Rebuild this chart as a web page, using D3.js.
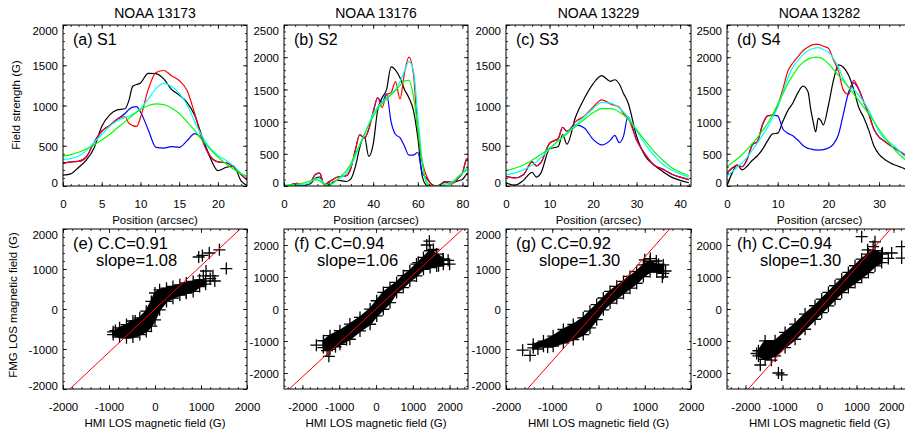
<!DOCTYPE html>
<html>
<head>
<meta charset="utf-8">
<script src="https://cdn.jsdelivr.net/npm/d3@7"></script>
<style>
  body { margin: 0; background: #fff; }
  text { font-family: "Liberation Sans", Arial, Helvetica, sans-serif; }
</style>
</head>
<body>
<svg id="fig" width="905" height="432"></svg>
<script>
// ---- labels ----
const titles = ["NOAA 13173", "NOAA 13176", "NOAA 13229", "NOAA 13282"];
const profileTags = ["(a) S1", "(b) S2", "(c) S3", "(d) S4"];
const scatterTags = ["(e)", "(f)", "(g)", "(h)"];
const ccValues = ["0.91", "0.94", "0.92", "0.94"];
const slopes = [1.08, 1.06, 1.30, 1.30];

// ---- field strength profiles (G) vs position (arcsec) ----
const posA = [0,1,2,3,4,5,6,7,8,8.5,9,9.5,10,11,12,13,14,15,16,17,18,19,20,21,22,23,24];
const blackA = [135,150,230,320,470,740,880,945,960,1060,1240,1260,1280,1400,1395,1330,1200,1130,1040,880,600,350,190,230,250,60,0];
const blueA  = [280,300,305,360,540,680,750,830,900,950,980,985,920,700,480,470,490,480,560,650,570,370,300,290,240,140,60];
const redA   = [280,300,305,360,540,680,750,830,860,780,750,740,850,1200,1410,1435,1370,1310,1190,900,560,370,300,290,240,140,60];
const cyanA  = [330,340,370,440,540,640,740,810,850,870,890,920,960,1080,1210,1275,1240,1150,1010,800,610,470,380,320,250,160,110];
const greenA = [370,390,420,460,510,570,640,720,800,840,880,915,950,1000,1020,1010,970,900,800,690,570,460,360,280,210,150,110];

const posB = [0,2,4,6,8,10,12,14,16,18,20,22,24,26,28,30,32,34,36,38,40,42,44,46,48,50,52,54,56,58,60,62,64,66,68,70,72,74,76,78,80,82,84];
const blackB = [5,5,5,10,10,20,40,120,140,20,10,60,90,80,70,110,300,600,780,460,650,1180,1370,1500,1850,1800,1680,1500,1370,1180,750,150,10,0,0,20,70,50,60,80,100,180,150];
const blueB  = [10,5,30,40,10,20,60,180,200,20,60,100,140,150,160,280,560,800,740,880,1150,1370,1300,1430,1000,800,750,620,480,480,520,200,120,30,0,20,60,70,50,120,200,420,300];
const redB   = [10,5,30,40,10,20,60,180,200,20,60,100,140,150,160,280,560,800,740,880,1150,1370,1220,1420,1450,1620,1350,1750,2000,1750,850,380,150,30,0,20,60,70,50,120,200,420,300];
const cyanB  = [10,10,10,15,20,30,60,110,110,40,10,40,100,140,200,320,460,640,780,960,1120,1230,1300,1370,1430,1500,1620,1780,1930,1800,1100,380,40,0,0,10,30,50,80,140,200,280,300];
const greenB = [10,15,20,30,40,60,80,100,80,30,20,50,100,170,240,350,500,640,800,950,1080,1200,1280,1350,1420,1480,1560,1630,1640,1400,900,350,60,0,0,5,10,20,60,140,200,250,270];

const posC = [0,2,4,6,7,8,10,12,13,14,16,18,20,22,24,25,26,27,28,30,32,34,36,38,40,42];
const blackC = [40,10,70,170,110,160,460,490,640,520,860,1090,1270,1370,1300,1320,1270,1150,1040,620,370,260,180,110,70,40];
const blueC  = [120,100,140,300,250,290,530,590,730,680,760,720,580,510,570,630,540,620,860,570,390,260,210,150,110,80];
const redC   = [120,100,140,300,250,290,530,590,730,680,800,870,980,1070,1020,1000,980,900,850,570,390,260,210,150,110,80];
const cyanC  = [140,160,200,260,300,350,460,560,610,660,760,860,960,1040,1030,1010,970,920,860,690,520,380,270,200,150,110];
const greenC = [190,220,260,320,355,390,470,560,605,650,740,830,910,960,960,950,920,880,830,700,560,430,320,230,170,130];

const posD = [0,1,2,3,4,5,6,7,8,9,10,11,12,13,14,15,16,16.5,17,17.5,18,18.5,19,20,21,22,23,24,25,26,27,28,29,30,31,32,33,34,35,36];
const blackD = [0,200,330,250,310,400,470,570,700,810,820,1000,1170,1290,1450,1550,1460,1200,1000,840,1050,1020,950,1250,1640,1880,1840,1720,1500,1220,1060,860,620,490,420,370,330,300,270,230];
const blueD  = [200,280,320,300,420,640,690,950,1090,1100,1090,890,820,780,710,630,585,575,565,560,558,560,565,590,650,800,1130,1460,1600,1500,1300,1110,880,760,700,640,590,540,490,450];
const redD   = [200,280,320,300,420,640,690,950,1090,1100,1250,1500,1780,1910,2010,2100,2160,2180,2195,2200,2200,2190,2170,2140,1960,1780,1480,1420,1640,1500,1300,1110,880,760,700,640,590,540,490,450];
const cyanD  = [150,220,290,360,450,560,670,790,910,1060,1220,1450,1680,1850,1950,2040,2100,2120,2135,2145,2148,2140,2120,2080,1980,1840,1650,1540,1500,1410,1300,1170,1000,840,740,680,620,540,460,420];
const greenD = [300,360,420,490,570,660,750,860,970,1110,1270,1430,1590,1720,1840,1920,1970,1985,1995,2000,1998,1990,1970,1900,1810,1715,1630,1530,1430,1330,1220,1120,1000,880,770,670,570,490,420,360];

// ---- HMI vs FMG scatter: dense core band (lo/hi) and scattered points (G) ----
const bandXE  = [-910,-770,-620,-480,-330,-190,-80,0,100,250,390,540,680,830,970,1100];
const bandLoE = [-640,-700,-720,-700,-640,-560,-430,-270,-20,190,270,350,395,440,560,620];
const bandHiE = [-570,-470,-390,-300,-220,-55,190,400,480,520,565,605,650,690,730,700];
const outE = [[950,1300],[1030,1340],[1180,1400],[1400,1480],[1110,950],[1050,830],[1260,830],[1300,700],[1550,1010],[1200,760],[680,420],[-430,-300],[-860,-540]];

const bandXF  = [-1430,-1250,-980,-710,-435,-160,20,200,380,560,740,920,1100,1290,1470,1650,1830];
const bandLoF = [-1206,-1258,-1102,-946,-685,-477,-217,-8,200,512,669,877,1033,1242,1294,1346,1398];
const bandHiF = [-992,-835,-679,-471,-262,-2,258,519,675,831,1040,1196,1404,1613,1821,1717,1560];
const outF = [[-1620,-1130],[-1330,-1300],[-1280,-1480],[-1100,-1180],[-800,-950],[1380,2000],[1450,2120],[1560,1860],[1820,1560],[1960,1520],[2000,1400],[1150,1450],[1700,1350]];

const bandXG  = [-1410,-1190,-980,-760,-545,-330,-185,-40,105,250,395,540,680,825,970,1115,1260,1400];
const bandLoG = [-971,-930,-930,-847,-764,-640,-474,-267,-20,147,271,395,520,644,810,934,934,892];
const bandHiG = [-884,-801,-677,-512,-387,-221,-55,110,275,442,566,690,814,938,1103,1187,1103,1103];
const outG = [[-1640,-1030],[-1480,-1160],[-1310,-1000],[-1100,-950],[1000,1230],[1120,1260],[1300,1120],[1450,950],[1380,800],[1250,1200]];

const bandXH  = [-1650,-1470,-1200,-930,-660,-390,-120,60,240,420,600,780,960,1140,1320,1500,1680];
const bandLoH = [-1467,-1571,-1467,-1206,-946,-633,-321,-112,96,304,512,669,825,981,1137,1346,1450];
const bandHiH = [-1304,-998,-992,-731,-471,-158,102,310,519,727,935,1144,1352,1560,1717,1821,1717];
const outH = [[-1700,-1390],[-1600,-1750],[-1110,-2000],[-1020,-2060],[-1300,-1600],[1140,2260],[1500,2100],[1450,1950],[1860,1580],[2220,1950],[2220,1590],[1700,1750],[1300,1850],[1950,1750]];

// ---- layout ----
const FONT = '"Liberation Sans", Arial, Helvetica, sans-serif';
const svg = d3.select("#fig");
const W = +svg.attr("width");
const colX = [[63, 247], [284, 468], [506, 691], [727, 912]];
const topY = [25, 186], botY = [229, 389];
const seriesColors = ["#000000", "#0000ff", "#ff0000", "#00ffff", "#00ff00"];

const profiles = [
  { pos: posA, ys: [blackA, blueA, redA, cyanA, greenA], xmax: 23.75, ymax: 2000, xt: [0,5,10,15,20], xm: 1 },
  { pos: posB, ys: [blackB, blueB, redB, cyanB, greenB], xmax: 82.5, ymax: 2500, xt: [0,20,40,60,80], xm: 5 },
  { pos: posC, ys: [blackC, blueC, redC, cyanC, greenC], xmax: 42.5, ymax: 2000, xt: [0,10,20,30,40], xm: 2 },
  { pos: posD, ys: [blackD, blueD, redD, cyanD, greenD], xmax: 36.5, ymax: 2500, xt: [0,10,20,30], xm: 2 }
];
const scatters = [
  { bx: bandXE, lo: bandLoE, hi: bandHiE, out: outE, lim: 2000 },
  { bx: bandXF, lo: bandLoF, hi: bandHiF, out: outF, lim: 2500 },
  { bx: bandXG, lo: bandLoG, hi: bandHiG, out: outG, lim: 2000 },
  { bx: bandXH, lo: bandLoH, hi: bandHiH, out: outH, lim: 2500 }
];

function styleAxis(g) {
  g.attr("font-size", 11.5).attr("font-family", FONT);
  g.select(".domain").remove();
  g.selectAll("line").attr("stroke", "#000").attr("stroke-width", 0.8);
  g.selectAll("text").attr("fill", "#000");
}

// box axes with inward ticks on all four sides, IDL style
function boxAxes(g, xa, x, y, w, h, xt, xm, yt, ym) {
  const [x0, x1] = x.domain(), [y0, y1] = y.domain();
  const xMinor = d3.range(Math.ceil(x0 / xm) * xm, x1 + 1e-9, xm);
  const yMinor = d3.range(Math.ceil(y0 / ym) * ym, y1 + 1e-9, ym);
  const fmt = d => String(d);

  const gb = g.append("g").attr("transform", `translate(0,${h})`)
    .call(d3.axisBottom(x).tickValues(xt).tickSize(-4).tickSizeOuter(0).tickPadding(14).tickFormat(fmt))
    .call(styleAxis);
  // keep a label that would run past the page edge inside it
  gb.selectAll("text").each(function (d) {
    const half = this.getComputedTextLength() / 2;
    const over = xa + x(d) + half - (W - 1);
    if (over > 0) d3.select(this).attr("x", -over);
  });
  g.append("g").attr("transform", `translate(0,${h})`)
    .call(d3.axisBottom(x).tickValues(xMinor).tickSize(-2).tickSizeOuter(0).tickFormat(""))
    .call(styleAxis);
  g.append("g")
    .call(d3.axisTop(x).tickValues(xt).tickSize(-4).tickSizeOuter(0).tickFormat(""))
    .call(styleAxis);
  g.append("g")
    .call(d3.axisTop(x).tickValues(xMinor).tickSize(-2).tickSizeOuter(0).tickFormat(""))
    .call(styleAxis);

  const ga = g.append("g")
    .call(d3.axisLeft(y).tickValues(yt).tickSize(-4).tickSizeOuter(0).tickPadding(5).tickFormat(fmt))
    .call(styleAxis);
  // end labels sit a little inside the frame
  ga.selectAll("text").attr("y", d => d === y1 ? 6 : d === y0 ? -3 : 1);
  g.append("g")
    .call(d3.axisLeft(y).tickValues(yMinor).tickSize(-2).tickSizeOuter(0).tickFormat(""))
    .call(styleAxis);
  g.append("g").attr("transform", `translate(${w},0)`)
    .call(d3.axisRight(y).tickValues(yt).tickSize(-4).tickSizeOuter(0).tickFormat(""))
    .call(styleAxis);
  g.append("g").attr("transform", `translate(${w},0)`)
    .call(d3.axisRight(y).tickValues(yMinor).tickSize(-2).tickSizeOuter(0).tickFormat(""))
    .call(styleAxis);

  g.append("rect").attr("width", w).attr("height", h)
    .attr("fill", "none").attr("stroke", "#000").attr("stroke-width", 1);
}

// ---- top row: profiles ----
profiles.forEach((p, i) => {
  const [xa, xb] = colX[i];
  const w = xb - xa, h = topY[1] - topY[0];
  const g = svg.append("g").attr("transform", `translate(${xa},${topY[0]})`);
  const x = d3.scaleLinear().domain([0, p.xmax]).range([0, w]);
  const y = d3.scaleLinear().domain([0, p.ymax]).range([h, 0]);

  g.append("clipPath").attr("id", "clipT" + i)
    .append("rect").attr("width", w).attr("height", h);
  const plot = g.append("g").attr("clip-path", `url(#clipT${i})`);
  const line = d3.line().x(d => x(d[0])).y(d => y(d[1])).curve(d3.curveMonotoneX);
  p.ys.forEach((vals, k) => {
    plot.append("path")
      .datum(p.pos.map((u, j) => [u, vals[j]]))
      .attr("d", line)
      .attr("fill", "none")
      .attr("stroke", seriesColors[k])
      .attr("stroke-width", 1.2);
  });

  boxAxes(g, xa, x, y, w, h, p.xt, p.xm, d3.range(0, p.ymax + 1, 500), 100);

  svg.append("text").attr("x", xa + w / 2).attr("y", 18)
    .attr("text-anchor", "middle").attr("font-size", 14).text(titles[i]);
  g.append("text").attr("x", 10).attr("y", 20).attr("font-size", 16).text(profileTags[i]);
  svg.append("text").attr("x", xa + w / 2).attr("y", 224)
    .attr("text-anchor", "middle").attr("font-size", 11.5).text("Position (arcsec)");
});

svg.append("text")
  .attr("transform", "translate(20,105) rotate(-90)")
  .attr("text-anchor", "middle").attr("font-size", 11.5).text("Field strength (G)");

// ---- bottom row: scatter ----
const plusPath = "M-6,0H6M0,-6V6";
scatters.forEach((s, i) => {
  const [xa, xb] = colX[i];
  const w = xb - xa, h = botY[1] - botY[0];
  const g = svg.append("g").attr("transform", `translate(${xa},${botY[0]})`);
  const x = d3.scaleLinear().domain([-s.lim, s.lim]).range([0, w]);
  const y = d3.scaleLinear().domain([-s.lim, s.lim]).range([h, 0]);

  g.append("clipPath").attr("id", "clipB" + i)
    .append("rect").attr("width", w).attr("height", h);
  const plot = g.append("g").attr("clip-path", `url(#clipB${i})`);

  const band = s.bx.map((v, j) => ({ x: v, lo: s.lo[j], hi: s.hi[j] }));
  plot.append("path").datum(band)
    .attr("d", d3.area().x(d => x(d.x)).y0(d => y(d.lo)).y1(d => y(d.hi)))
    .attr("fill", "#000").attr("stroke", "#000").attr("stroke-width", 2);

  const pts = band.flatMap(d => [[d.x, d.lo], [d.x, d.hi]]).concat(s.out);
  plot.selectAll("path.pt").data(pts).enter().append("path")
    .attr("class", "pt")
    .attr("transform", d => `translate(${x(d[0])},${y(d[1])})`)
    .attr("d", plusPath)
    .attr("stroke", "#000").attr("stroke-width", 1.3).attr("fill", "none");

  plot.append("line")
    .attr("x1", x(-3000)).attr("y1", y(-3000 * slopes[i]))
    .attr("x2", x(3000)).attr("y2", y(3000 * slopes[i]))
    .attr("stroke", "#ff0000").attr("stroke-width", 1);

  boxAxes(g, xa, x, y, w, h, [-2000, -1000, 0, 1000, 2000], 200, [-2000, -1000, 0, 1000, 2000], 200);

  g.append("text").attr("x", 10).attr("y", 20).attr("font-size", 16.5)
    .text(scatterTags[i] + " C.C=" + ccValues[i]);
  g.append("text").attr("x", 33).attr("y", 37).attr("font-size", 16.5)
    .text("slope=" + slopes[i].toFixed(2));
  svg.append("text").attr("x", xa + w / 2).attr("y", 427)
    .attr("text-anchor", "middle").attr("font-size", 11.5).text("HMI LOS magnetic field (G)");
});

svg.append("text")
  .attr("transform", "translate(16.5,305) rotate(-90)")
  .attr("text-anchor", "middle").attr("font-size", 11.5).text("FMG LOS magnetic field (G)");
</script>
</body>
</html>
